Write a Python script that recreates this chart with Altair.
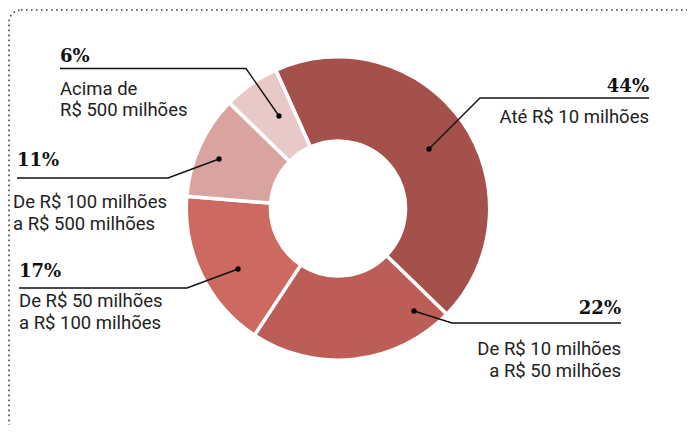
import altair as alt
import pandas as pd

# ---- data ----
categories = [
    "Até R$ 10 milhões",
    "De R$ 10 milhões a R$ 50 milhões",
    "De R$ 50 milhões a R$ 100 milhões",
    "De R$ 100 milhões a R$ 500 milhões",
    "Acima de R$ 500 milhões",
]
values = [44, 22, 17, 11, 6]
pct_labels = ["44%", "22%", "17%", "11%", "6%"]
label_lines = [
    ["Até R$ 10 milhões"],
    ["De R$ 10 milhões", "a R$ 50 milhões"],
    ["De R$ 50 milhões", "a R$ 100 milhões"],
    ["De R$ 100 milhões", "a R$ 500 milhões"],
    ["Acima de", "R$ 500 milhões"],
]
colors = ["#a4504b", "#bd5d57", "#cc6961", "#d9a3a0", "#e9c9c7"]

# ---- layout (page pixels; the svg starts at the 8px page margin) ----
OFF = 8
W, H = 660, 401
START = -24.2 * 3.141592653589793 / 180
layout = [
    dict(dot=(429, 149), elbow=(480, 98), end=(649, 98), side="right",
         pct=(649, 91.5), lab_x=649, lab_y=[122.5]),
    dict(dot=(414, 311), elbow=(452, 323), end=(621, 323), side="right",
         pct=(621, 314), lab_x=621, lab_y=[354.5, 376.5]),
    dict(dot=(238, 269), elbow=(187, 288), end=(19, 288), side="left",
         pct=(19, 277), lab_x=19, lab_y=[307, 329]),
    dict(dot=(219, 159), elbow=(168, 178), end=(17, 178), side="left",
         pct=(17, 166), lab_x=13, lab_y=[208, 230]),
    dict(dot=(279, 116), elbow=(246, 68.5), end=(60, 68.5), side="left",
         pct=(60, 62), lab_x=60, lab_y=[94.5, 116]),
]

pie = pd.DataFrame({"cat": categories, "value": values, "idx": range(len(values))})

line_rows, dot_rows, pct_rows, lab_rows = [], [], [], []
for i, (p, lines, lay) in enumerate(zip(pct_labels, label_lines, layout)):
    for s, key in enumerate(["dot", "elbow", "end"]):
        x, y = lay[key]
        line_rows.append(dict(g=i, s=s, x=x - OFF, y=y - OFF))
    dot_rows.append(dict(x=lay["dot"][0] - OFF, y=lay["dot"][1] - OFF))
    pct_rows.append(dict(t=p, x=lay["pct"][0] - OFF, y=lay["pct"][1] - OFF, side=lay["side"]))
    for t, yy in zip(lines, lay["lab_y"]):
        lab_rows.append(dict(t=t, x=lay["lab_x"] - OFF, y=yy - OFF, side=lay["side"]))

lines_df = pd.DataFrame(line_rows)
dots_df = pd.DataFrame(dot_rows)
pct_df = pd.DataFrame(pct_rows)
lab_df = pd.DataFrame(lab_rows)

border = alt.Chart(pd.DataFrame({"a": [0]})).mark_rect(
    fillOpacity=0, stroke="#444", strokeWidth=1.6, strokeDash=[1.6, 3.4], cornerRadius=12
).encode(x=alt.value(1), y=alt.value(2), x2=alt.value(1200), y2=alt.value(1200))

donut = alt.Chart(pie).mark_arc(
    innerRadius=67.5, outerRadius=151.7, stroke="white", strokeWidth=3.5
).encode(
    theta=alt.Theta("value:Q", stack=True,
                    scale=alt.Scale(range=[START, START + 2 * 3.141592653589793])),
    order=alt.Order("idx:Q"),
    color=alt.Color("cat:N", scale=alt.Scale(domain=categories, range=colors), legend=None),
)

leaders = alt.Chart(lines_df).mark_line(color="#111", strokeWidth=1.4).encode(
    x=alt.X("x:Q", scale=None), y=alt.Y("y:Q", scale=None),
    detail="g:N", order="s:Q",
)

dots = alt.Chart(dots_df).mark_point(filled=True, color="#000", size=28, opacity=1).encode(
    x=alt.X("x:Q", scale=None), y=alt.Y("y:Q", scale=None)
)

def text_layer(df, side, **kw):
    return alt.Chart(df[df.side == side]).mark_text(
        align=side, baseline="alphabetic", **kw
    ).encode(x=alt.X("x:Q", scale=None), y=alt.Y("y:Q", scale=None), text="t:N")

pct_font = dict(font="DejaVu Serif", fontSize=18, fontWeight="bold", color="#111")
lab_font = dict(font="Roboto", fontSize=18.5, color="#222")

chart = alt.layer(
    border, donut, leaders, dots,
    text_layer(pct_df, "left", **pct_font), text_layer(pct_df, "right", **pct_font),
    text_layer(lab_df, "left", **lab_font), text_layer(lab_df, "right", **lab_font),
).properties(
    width=W, height=H,
    autosize=alt.AutoSizeParams(type="none"),
    padding={"left": 0, "top": 0, "right": 19, "bottom": 16},
).configure_view(stroke=None)

chart.save("out.html", embed_options={"renderer": "svg", "actions": False})
